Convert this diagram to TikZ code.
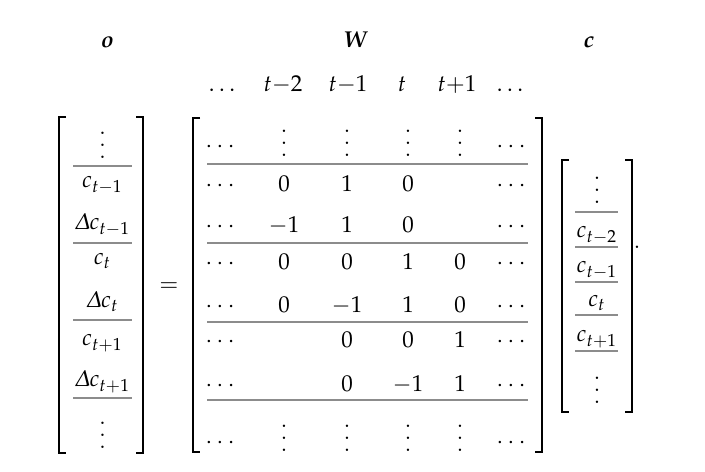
\documentclass[tikz,border=0pt]{standalone}
\usepackage{amsmath}
\usepackage{mathpazo}
\usepackage{bm}
\usetikzlibrary{backgrounds}

% taller vertical dots, as in the matrix
\newcommand{\tallvdots}{\vbox{\baselineskip5.3pt \lineskiplimit0pt \hbox{.}\hbox{.}\hbox{.}}}

\begin{document}
\begin{tikzpicture}[x=0.435pt, y=-0.435pt, background rectangle/.style={fill=white}, show background rectangle, inner frame sep=0pt,
	bracket/.style={line width=1pt, black},
	rule/.style={line width=0.85pt, gray!90},
	entry/.style={inner sep=0pt, anchor=base}]

	\def\serif{7}

	\def\oX{102.5}
	\def\cX{597}

	\def\colOne{222}
	\def\colTwo{284}
	\def\colThree{347}
	\def\colFour{408}
	\def\colFive{460}
	\def\colSix{513}

	\useasboundingbox (0,0) rectangle (705,472);

	% Brackets
	\foreach \xl/\xr/\yt/\yb in {59/143/117/453, 193/542/118/452, 562/632/160/412}
	{
		\draw[bracket] (\xl + \serif,\yt) -- (\xl,\yt) -- (\xl,\yb) -- (\xl + \serif,\yb);
		\draw[bracket] (\xr - \serif,\yt) -- (\xr,\yt) -- (\xr,\yb) -- (\xr - \serif,\yb);
	}

	% Labels
	\node[entry] (oLabel) at (107,48) {$\bm{o}$};
	\node[entry] (WLabel) at (356,48) {$\bm{W}$};
	\node[entry] (cLabel) at (589,48) {$\bm{c}$};

	% Column header
	\node[entry] (hdA) at (222,92) {$\ldots$};
	\node[entry] (hdB) at (283,92) {$t{-}2$};
	\node[entry] (hdC) at (348,92) {$t{-}1$};
	\node[entry] (hdD) at (402,92) {$t$};
	\node[entry] (hdE) at (457,92) {$t{+}1$};
	\node[entry] (hdF) at (510,92) {$\ldots$};

	% Vector o
	\node[entry] (o1) at (\oX,159) {$\tallvdots$};
	\node[entry] (o2) at (\oX,188) {$c_{t-1}$};
	\node[entry] (o3) at (\oX,230) {$\varDelta c_{t-1}$};
	\node[entry] (o4) at (\oX,265) {$c_{t}$};
	\node[entry] (o5) at (\oX,308) {$\varDelta c_{t}$};
	\node[entry] (o6) at (\oX,346) {$c_{t+1}$};
	\node[entry] (o7) at (\oX,387) {$\varDelta c_{t+1}$};
	\node[entry] (o8) at (\oX,449) {$\tallvdots$};
	\foreach \py in {166, 243, 320, 398}
		\draw[rule] (73,\py) -- (132,\py);

	\node (eq) at (169,287) {$=$};

	% Matrix W, first and last row
	\node[entry] (w11) at (\colOne,152.5) {$\cdots$};
	\node[entry] (w16) at (\colSix,152.5) {$\cdots$};
	\node[entry] (w81) at (\colOne,448.5) {$\cdots$};
	\node[entry] (w86) at (\colSix,448.5) {$\cdots$};
	\foreach \px [count=\i from 2] in {\colTwo, \colThree, \colFour, \colFive}
	{
		\node[entry] (w1\i) at (\px,156.5) {$\tallvdots$};
		\node[entry] (w8\i) at (\px,451.5) {$\tallvdots$};
	}

	% Matrix W, side dots of the inner rows
	\foreach \py [count=\r from 2] in {192, 233, 270, 313, 348, 392}
	{
		\node[entry] (w\r1) at (\colOne,\py) {$\cdots$};
		\node[entry] (w\r6) at (\colSix,\py) {$\cdots$};
	}

	% Matrix W, inner rows
	\foreach \px/\val [count=\i from 2] in {\colTwo/0, \colThree/1, \colFour/0}
		\node[entry] (w2\i) at (\px,192) {$\val$};
	\foreach \px/\val [count=\i from 2] in {\colTwo/-1, \colThree/1, \colFour/0}
		\node[entry] (w3\i) at (\px,233) {$\val$};
	\foreach \px/\val [count=\i from 2] in {\colTwo/0, \colThree/0, \colFour/1, \colFive/0}
		\node[entry] (w4\i) at (\px,270) {$\val$};
	\foreach \px/\val [count=\i from 2] in {\colTwo/0, \colThree/-1, \colFour/1, \colFive/0}
		\node[entry] (w5\i) at (\px,313) {$\val$};
	\foreach \px/\val [count=\i from 3] in {\colThree/0, \colFour/0, \colFive/1}
		\node[entry] (w6\i) at (\px,348) {$\val$};
	\foreach \px/\val [count=\i from 3] in {\colThree/0, \colFour/-1, \colFive/1}
		\node[entry] (w7\i) at (\px,392) {$\val$};

	\foreach \py in {164, 243, 322, 400}
		\draw[rule] (207,\py) -- (528,\py);

	% Vector c
	\node[entry] (c1) at (\cX,204) {$\tallvdots$};
	\node[entry] (c2) at (\cX,238) {$c_{t-2}$};
	\node[entry] (c3) at (\cX,273) {$c_{t-1}$};
	\node[entry] (c4) at (\cX,307) {$c_{t}$};
	\node[entry] (c5) at (\cX,342) {$c_{t+1}$};
	\node[entry] (c6) at (\cX,404) {$\tallvdots$};
	\foreach \py in {212, 247, 282, 315, 351}
		\draw[rule] (575,\py) -- (618,\py);

	\node[entry] (period) at (637,249) {.};

\end{tikzpicture}
\end{document}
